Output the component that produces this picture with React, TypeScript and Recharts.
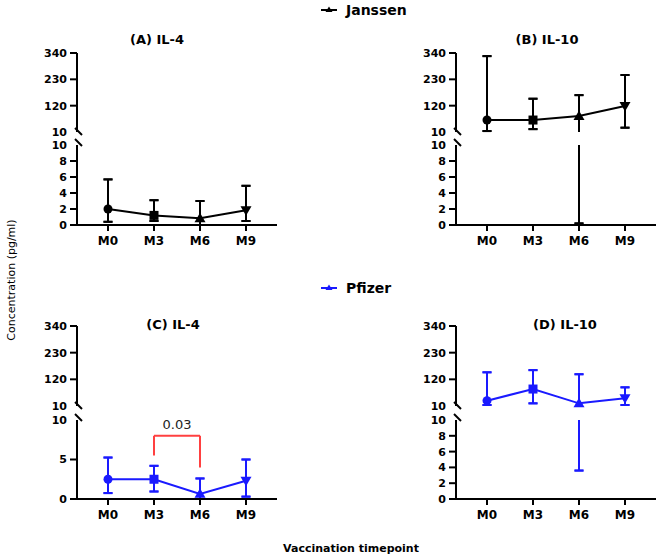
import React from "react";
import { LineChart, Line, XAxis, YAxis, ErrorBar, ReferenceLine } from "recharts";

const categories = ["M0", "M3", "M6", "M9"];

// Janssen
const janssenIl4Mean = [2.0, 1.2, 0.85, 1.85];
const janssenIl4Low = [0.4, 0.5, 0, 0.5];
const janssenIl4High = [5.7, 3.1, 3.0, 4.9];

const janssenIl10Mean = [60, 60, 77, 119];
const janssenIl10Low = [14, 22, 0.2, 28];
const janssenIl10High = [327, 149, 164, 248];

// Pfizer
const pfizerIl4Mean = [2.5, 2.5, 0.65, 2.3];
const pfizerIl4Low = [0.75, 0.95, 0, 0.3];
const pfizerIl4High = [5.25, 4.2, 2.6, 5.0];

const pfizerIl10Mean = [32, 80, 21, 42];
const pfizerIl10Low = [14, 21, 3.6, 14];
const pfizerIl10High = [149, 158, 141, 87];

// broken y axis: upper and lower segments
const upperDomain = [10, 340];
const lowerDomain = [0, 10];
const upperTicks = [10, 120, 230, 340];
const lowerTicksFine = [0, 2, 4, 6, 8, 10];
const lowerTicksCoarse = [0, 5, 10];

// significance bracket in (C)
const bracketFrom = "M3";
const bracketTo = "M6";
const bracketTop = 8;
const bracketLeftEnd = 5.5;
const bracketRightEnd = 4.0;
const bracketLabel = "0.03";

const BLACK = "#000000";
const BLUE = "#1a1aff";
const RED = "#ff4040";
const FONT = "DejaVu Sans";
const markerShapes = ["circle", "square", "up", "down"];

const panels = [
  { id: "A", title: "(A) IL-4", color: BLACK, mean: janssenIl4Mean, low: janssenIl4Low, high: janssenIl4High,
    axisX: 77, titleX: 157, titleY: 39, upperTop: 53, upperBottom: 132, lowerTop: 145, lowerBottom: 225, lowerTicks: lowerTicksFine },
  { id: "B", title: "(B) IL-10", color: BLACK, mean: janssenIl10Mean, low: janssenIl10Low, high: janssenIl10High,
    axisX: 456, titleX: 547, titleY: 39, upperTop: 53, upperBottom: 132, lowerTop: 145, lowerBottom: 225, lowerTicks: lowerTicksFine },
  { id: "C", title: "(C) IL-4", color: BLUE, mean: pfizerIl4Mean, low: pfizerIl4Low, high: pfizerIl4High,
    axisX: 77, titleX: 173, titleY: 324, upperTop: 326, upperBottom: 406, lowerTop: 420, lowerBottom: 499, lowerTicks: lowerTicksCoarse, bracket: true },
  { id: "D", title: "(D) IL-10", color: BLUE, mean: pfizerIl10Mean, low: pfizerIl10Low, high: pfizerIl10High,
    axisX: 456, titleX: 565, titleY: 324, upperTop: 326, upperBottom: 406, lowerTop: 420, lowerBottom: 499, lowerTicks: lowerTicksFine },
];

function segmentRows(mean: number[], low: number[], high: number[], min: number, max: number) {
  const inside = (v: number) => v >= min && v <= max;
  return categories.map((name, i) => {
    const a = Math.max(low[i], min);
    const b = Math.min(high[i], max);
    const hasStem = a < b;
    return {
      name,
      mean: inside(mean[i]) ? mean[i] : null,
      stem: hasStem ? a : null,
      stemErr: hasStem ? [0, b - a] : null,
      capLo: inside(low[i]) ? low[i] : null,
      capLoErr: inside(low[i]) ? [0, 0] : null,
      capHi: inside(high[i]) ? high[i] : null,
      capHiErr: inside(high[i]) ? [0, 0] : null,
    };
  });
}

function renderMarker(p: any, color: string) {
  const { cx, cy, index } = p;
  const key = `mk-${index}`;
  if (cx == null || cy == null) return <g key={key} />;
  const shape = markerShapes[index];
  if (shape === "circle") return <circle key={key} cx={cx} cy={cy} r={4.5} fill={color} />;
  if (shape === "square") return <rect key={key} x={cx - 4.5} y={cy - 4.5} width={9} height={9} fill={color} />;
  if (shape === "up")
    return <polygon key={key} points={`${cx},${cy - 5.5} ${cx - 5.5},${cy + 4} ${cx + 5.5},${cy + 4}`} fill={color} />;
  return <polygon key={key} points={`${cx},${cy + 5.5} ${cx - 5.5},${cy - 4} ${cx + 5.5},${cy - 4}`} fill={color} />;
}

const yTick = (props: any) => {
  const { x, y, payload } = props;
  return (
    <g>
      {payload.value !== 10 && <line x1={x + 3} x2={x + 10} y1={y} y2={y} stroke={BLACK} strokeWidth={2} />}
      <text x={x} y={y} dy="0.36em" textAnchor="end" fill={BLACK} fontSize={11} fontWeight={700} fontFamily={FONT}>
        {payload.value}
      </text>
    </g>
  );
};

function Segment({ panel, lower }: { panel: any; lower: boolean }) {
  const [min, max] = lower ? lowerDomain : upperDomain;
  const ticks = lower ? panel.lowerTicks : upperTicks;
  const top = lower ? panel.lowerTop : panel.upperTop;
  const bottom = lower ? panel.lowerBottom : panel.upperBottom;
  const mTop = 8;
  const mBottom = lower ? 0 : 8;
  const xH = 30;
  const yW = 40;
  const plotW = 200;
  const mRight = 6;
  const width = yW + plotW + mRight;
  const height = mTop + (bottom - top) + (lower ? xH : 0) + mBottom;
  const rows = segmentRows(panel.mean, panel.low, panel.high, min, max);
  const noMeans = rows.every((r) => r.mean == null);
  const c = panel.color;

  return (
    <div style={{ position: "absolute", left: panel.axisX - yW, top: top - mTop, width, height }}>
      <LineChart width={width} height={height} data={rows} margin={{ top: mTop, right: mRight, bottom: mBottom, left: 0 }}>
        <XAxis
          dataKey="name"
          hide={!lower}
          height={xH}
          padding={{ left: 31, right: 31 }}
          interval={0}
          tickSize={6}
          tickMargin={5}
          axisLine={{ stroke: BLACK, strokeWidth: 2 }}
          tickLine={{ stroke: BLACK, strokeWidth: 2 }}
          tick={{ fill: BLACK, fontSize: 12, fontWeight: 700, fontFamily: FONT }}
        />
        <YAxis
          type="number"
          domain={[min, max]}
          allowDataOverflow={noMeans}
          ticks={ticks}
          interval={0}
          width={yW}
          tickSize={7}
          tickMargin={3}
          tickLine={false}
          axisLine={{ stroke: BLACK, strokeWidth: 2 }}
          tick={yTick}
        />
        <Line dataKey="stem" stroke="none" dot={false} activeDot={false} legendType="none" isAnimationActive={false}>
          <ErrorBar dataKey="stemErr" direction="y" width={0} stroke={c} strokeWidth={2} isAnimationActive={false} />
        </Line>
        <Line dataKey="capLo" stroke="none" dot={false} activeDot={false} legendType="none" isAnimationActive={false}>
          <ErrorBar dataKey="capLoErr" direction="y" width={4.5} stroke={c} strokeWidth={2} isAnimationActive={false} />
        </Line>
        <Line dataKey="capHi" stroke="none" dot={false} activeDot={false} legendType="none" isAnimationActive={false}>
          <ErrorBar dataKey="capHiErr" direction="y" width={4.5} stroke={c} strokeWidth={2} isAnimationActive={false} />
        </Line>
        <Line
          type="linear"
          dataKey="mean"
          stroke={c}
          strokeWidth={2}
          dot={(p: any) => renderMarker(p, c)}
          activeDot={false}
          legendType="none"
          isAnimationActive={false}
        />
        {lower && panel.bracket && (
          <ReferenceLine
            segment={[{ x: bracketFrom, y: bracketTop }, { x: bracketTo, y: bracketTop }]}
            stroke={RED}
            strokeWidth={2}
            label={{ value: bracketLabel, position: "top", offset: 7, fill: "#222", fontSize: 13, fontFamily: FONT }}
          />
        )}
        {lower && panel.bracket && (
          <ReferenceLine segment={[{ x: bracketFrom, y: bracketTop }, { x: bracketFrom, y: bracketLeftEnd }]} stroke={RED} strokeWidth={2} />
        )}
        {lower && panel.bracket && (
          <ReferenceLine segment={[{ x: bracketTo, y: bracketTop }, { x: bracketTo, y: bracketRightEnd }]} stroke={RED} strokeWidth={2} />
        )}
      </LineChart>
    </div>
  );
}

function LegendItem({ y, color, label }: { y: number; color: string; label: string }) {
  return (
    <g>
      <line x1={321} x2={337} y1={y} y2={y} stroke={color} strokeWidth={2} />
      <polygon points={`329,${y - 3.5} ${325.5},${y + 2} ${332.5},${y + 2}`} fill={color} />
      <text x={346} y={y} dy="0.36em" fontSize={14} fontWeight={700} fontFamily={FONT} fill={BLACK}>
        {label}
      </text>
    </g>
  );
}

export default function App() {
  return (
    <div style={{ position: "absolute", left: 0, top: 0, width: 661, height: 559, background: "#fff" }}>
      {panels.map((p) => (
        <React.Fragment key={p.id}>
          <Segment panel={p} lower={false} />
          <Segment panel={p} lower={true} />
        </React.Fragment>
      ))}
      <svg width={661} height={559} style={{ position: "absolute", left: 0, top: 0, pointerEvents: "none" }}>
        <LegendItem y={10} color={BLACK} label="Janssen" />
        <LegendItem y={288} color={BLUE} label="Pfizer" />
        {panels.map((p) => (
          <g key={p.id}>
            <text x={p.titleX} y={p.titleY} dy="0.36em" textAnchor="middle" fontSize={13} fontWeight={700} fontFamily={FONT} fill={BLACK}>
              {p.title}
            </text>
            <line x1={p.axisX - 2} y1={p.upperBottom - 4} x2={p.axisX + 5} y2={p.upperBottom + 3} stroke={BLACK} strokeWidth={2} />
            <line x1={p.axisX - 2} y1={p.lowerTop - 6} x2={p.axisX + 5} y2={p.lowerTop + 1} stroke={BLACK} strokeWidth={2} />
          </g>
        ))}
        <text x={11} y={280} dy="0.36em" textAnchor="middle" transform="rotate(-90 11 280)" fontSize={11} fontFamily={FONT} fill={BLACK}>
          Concentration (pg/ml)
        </text>
        <text x={351} y={548} dy="0.36em" textAnchor="middle" fontSize={11} fontWeight={700} fontFamily={FONT} fill={BLACK}>
          Vaccination timepoint
        </text>
      </svg>
    </div>
  );
}
